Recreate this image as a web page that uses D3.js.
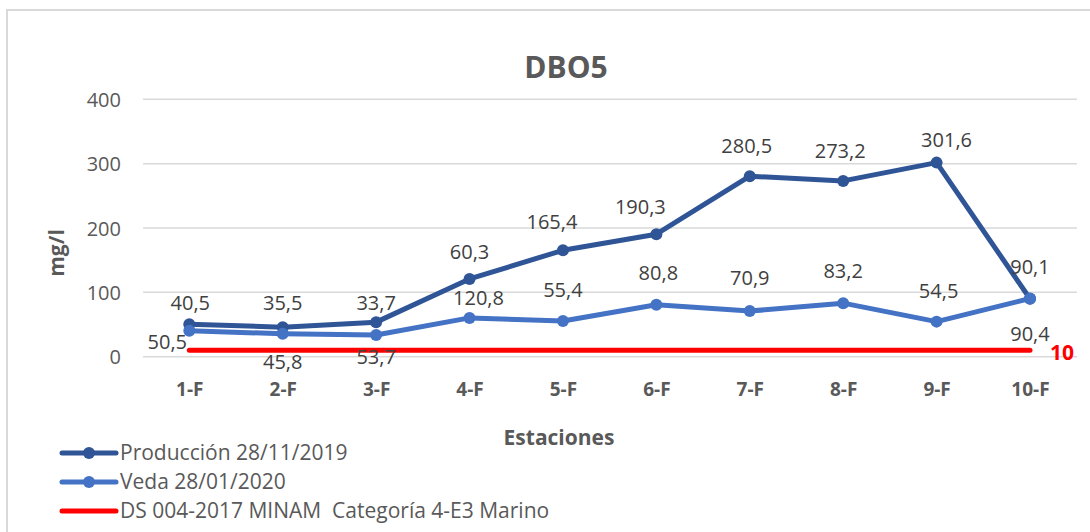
<!DOCTYPE html>
<html>
<head>
<meta charset="utf-8">
<script src="https://cdn.jsdelivr.net/npm/d3@7"></script>
<style>
  body { margin: 0; background: #fff; }
  svg text { font-family: "Open Sans", Lato, sans-serif; white-space: pre; }
</style>
</head>
<body>
<svg id="chart" width="1090" height="532"></svg>
<script>
// data
var estaciones = ['1-F', '2-F', '3-F', '4-F', '5-F', '6-F', '7-F', '8-F', '9-F', '10-F'];
var produccion = [50.5, 45.8, 53.7, 120.8, 165.4, 190.3, 280.5, 273.2, 301.6, 90.1];
var veda = [40.5, 35.5, 33.7, 60.3, 55.4, 80.8, 70.9, 83.2, 54.5, 90.4];
var limite = 10;
var yTicks = [0, 100, 200, 300, 400];
var seriesNames = ['Producción 28/11/2019', 'Veda 28/01/2020', 'DS 004-2017 MINAM  Categoría 4-E3 Marino'];

// label offsets (as placed in the original chart)
var prodLabelOff = [[-22, 18], [0, 35], [0, 35], [9, 19], [-11, -28], [-16, -27], [-3, -30], [-3, -30], [10, -23], [0, -32]];
var vedaLabelOff = [[1, -28], [0, -31], [0, -32], [0, -66], [0, -31], [2, -32], [0, -33], [0, -32], [2, -31], [0, 35]];

var fmt = function(v) { return d3.format('.1f')(v).replace('.', ','); };

var svg = d3.select('#chart');
var colProd = '#2f5597', colVeda = '#4472c4', colRed = '#ff0000', textCol = '#595959';

// frame
svg.append('rect')
  .attr('x', 7).attr('y', 10).attr('width', 1100).attr('height', 540)
  .attr('fill', '#fff').attr('stroke', '#d9d9d9').attr('stroke-width', 2);

var x = d3.scalePoint().domain(estaciones).range([142.6, 1076.7]).padding(0.5);
var y = d3.scaleLinear().domain([0, 400]).range([356.7, 99.3]);

// gridlines
svg.append('g').selectAll('line')
  .data(yTicks).enter().append('line')
  .attr('x1', 143).attr('x2', 1077)
  .attr('y1', function(d) { return y(d); })
  .attr('y2', function(d) { return y(d); })
  .attr('stroke', '#d9d9d9').attr('stroke-width', 1.5);

// y axis labels
var yAxis = d3.axisLeft(y).tickValues(yTicks).tickSize(0).tickPadding(0);
var gy = svg.append('g').attr('transform', 'translate(121,0)').call(yAxis);
gy.select('.domain').remove();
gy.selectAll('text')
  .attr('fill', textCol).style('font-size', '20px').attr('dy', '0.35em');

// x axis labels
var xAxis = d3.axisBottom(x).tickSize(0).tickPadding(0);
var gx = svg.append('g').attr('transform', 'translate(0,389)').call(xAxis);
gx.select('.domain').remove();
gx.selectAll('text')
  .attr('fill', textCol).style('font-size', '19px').style('font-weight', 'bold').attr('dy', '0.35em');

// title + axis titles
svg.append('text').attr('x', 566).attr('y', 67).attr('dy', '0.35em')
  .attr('text-anchor', 'middle').attr('fill', textCol)
  .style('font-size', '30px').style('font-weight', 'bold').text('DBO5');

svg.append('text').attr('x', 559).attr('y', 438).attr('dy', '0.35em')
  .attr('text-anchor', 'middle').attr('fill', textCol)
  .style('font-size', '21px').style('font-weight', 'bold').text('Estaciones');

svg.append('text').attr('transform', 'translate(57,253) rotate(-90)').attr('dy', '0.35em')
  .attr('text-anchor', 'middle').attr('fill', textCol)
  .style('font-size', '21px').style('font-weight', 'bold').text('mg/l');

// limit line
svg.append('line')
  .attr('x1', x(estaciones[0])).attr('x2', x(estaciones[estaciones.length - 1]))
  .attr('y1', y(limite)).attr('y2', y(limite))
  .attr('stroke', colRed).attr('stroke-width', 5).attr('stroke-linecap', 'round');

svg.append('text')
  .attr('x', x(estaciones[estaciones.length - 1]) + 32).attr('y', y(limite) + 2).attr('dy', '0.35em')
  .attr('text-anchor', 'middle').attr('fill', colRed)
  .style('font-size', '21px').style('font-weight', 'bold').text(limite);

var line = d3.line()
  .x(function(d, i) { return x(estaciones[i]); })
  .y(function(d) { return y(d); });

function drawSeries(vals, col) {
  var g = svg.append('g');
  g.append('path').datum(vals)
    .attr('d', line).attr('fill', 'none')
    .attr('stroke', col).attr('stroke-width', 5).attr('stroke-linejoin', 'round');
  g.selectAll('circle').data(vals).enter().append('circle')
    .attr('cx', function(d, i) { return x(estaciones[i]); })
    .attr('cy', function(d) { return y(d); })
    .attr('r', 6).attr('fill', col);
  return g;
}

drawSeries(produccion, colProd);
drawSeries(veda, colVeda);

function drawLabels(vals, offs) {
  svg.append('g').selectAll('text').data(vals).enter().append('text')
    .attr('x', function(d, i) { return x(estaciones[i]) + offs[i][0]; })
    .attr('y', function(d, i) { return y(d) + offs[i][1]; })
    .attr('dy', '0.35em').attr('text-anchor', 'middle')
    .attr('fill', '#404040').style('font-size', '20px')
    .text(function(d) { return fmt(d); });
}
drawLabels(produccion, prodLabelOff);
drawLabels(veda, vedaLabelOff);

// legend
var legend = svg.append('g');
var legCols = [colProd, colVeda, colRed];
var legY = [453, 482, 511];
seriesNames.forEach(function(name, i) {
  legend.append('line')
    .attr('x1', 62).attr('x2', 116).attr('y1', legY[i]).attr('y2', legY[i])
    .attr('stroke', legCols[i]).attr('stroke-width', 5).attr('stroke-linecap', 'round');
  if (i < 2) {
    legend.append('circle').attr('cx', 89).attr('cy', legY[i]).attr('r', 6).attr('fill', legCols[i]);
  }
  legend.append('text')
    .attr('x', 120).attr('y', legY[i]).attr('dy', '0.35em')
    .attr('fill', textCol).style('font-size', '21px')
    .text(name);
});
</script>
</body>
</html>
